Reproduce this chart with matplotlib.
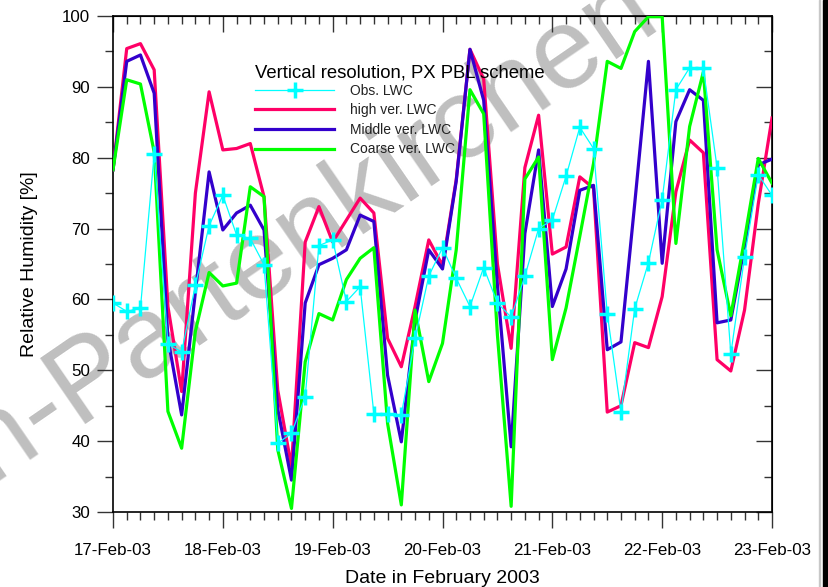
import matplotlib
matplotlib.use("Agg")
import matplotlib.pyplot as plt
import numpy as np
from matplotlib.ticker import MultipleLocator
from matplotlib.patches import Rectangle

plt.rcParams['font.family'] = ['Liberation Sans', 'DejaVu Sans']

# 3-hourly values, 17 Feb 00 UTC .. 23 Feb 00 UTC
day_labels = ['17-Feb-03', '18-Feb-03', '19-Feb-03', '20-Feb-03',
              '21-Feb-03', '22-Feb-03', '23-Feb-03']
steps_per_day = 8

obs_lwc = [59.5, 58.3, 58.8, 80.5, 53.7, 52.6, 62.0, 70.4,
           74.7, 69.1, 68.6, 64.9, 39.7, 41.1, 46.3, 67.6,
           68.4, 59.7, 61.8, 43.9, 43.9, 43.7, 54.5, 63.3,
           67.3, 63.0, 59.0, 64.5, 59.5, 57.5, 63.3, 70.0,
           71.2, 77.4, 84.3, 81.3, 58.0, 44.1, 58.7, 65.2,
           74.1, 89.6, 92.7, 92.6, 78.6, 52.3, 66.0, 77.6,
           74.7]
high_lwc = [78.3, 95.4, 96.1, 92.4, 59.0, 47.0, 75.0, 89.3,
            81.1, 81.3, 82.0, 74.5, 47.2, 36.4, 68.1, 73.1,
            68.1, 71.2, 74.3, 72.2, 54.5, 50.5, 59.0, 68.4,
            64.8, 76.9, 95.3, 91.1, 65.0, 53.1, 78.6, 86.0,
            66.4, 67.4, 77.3, 75.7, 44.1, 45.0, 53.9, 53.2,
            60.4, 75.2, 82.5, 80.7, 51.5, 49.9, 58.5, 73.5,
            85.6]
middle_lwc = [78.3, 93.6, 94.5, 89.1, 54.5, 43.7, 61.0, 78.0,
              69.8, 72.2, 73.3, 69.8, 44.5, 34.5, 59.5, 64.9,
              65.8, 67.0, 71.9, 71.0, 49.3, 39.9, 57.0, 67.0,
              64.3, 76.7, 95.3, 88.1, 62.0, 39.2, 69.3, 81.1,
              59.0, 64.3, 75.4, 76.1, 52.9, 54.0, 73.5, 93.6,
              65.1, 85.1, 89.6, 88.1, 56.7, 57.1, 67.5, 79.0,
              79.8]
coarse_lwc = [78.3, 91.0, 90.4, 80.8, 44.2, 39.0, 55.5, 63.8,
              61.9, 62.3, 75.9, 74.5, 38.8, 30.5, 51.2, 58.0,
              57.1, 62.8, 65.8, 67.3, 42.5, 31.0, 58.5, 48.4,
              53.8, 67.0, 89.6, 86.2, 55.0, 30.8, 77.0, 80.1,
              51.5, 58.8, 68.9, 79.2, 93.6, 92.6, 97.8, 99.9,
              99.9, 67.9, 84.4, 92.1, 67.0, 57.7, 68.5, 79.9,
              76.4]

t = np.arange(len(obs_lwc)) / steps_per_day

W, H = 829, 587
fig = plt.figure(figsize=(W / 100, H / 100), dpi=100)
ax = fig.add_axes([113 / W, 1 - 512 / H, 659 / W, 496 / H])
ax.set_facecolor('none')

# background stamp
stamp = dict(fontsize=83, color='#bfbfbf', rotation=34.5,
             rotation_mode='anchor', va='baseline', zorder=-5,
             family='Liberation Sans')
fig.text(76 / W, 1 - 424 / H, 'Garmisch-', ha='right', **stamp)
fig.text(76 / W, 1 - 424 / H, 'Partenkirchen', ha='left', **stamp)

lw = 2.3
ax.plot(t, high_lwc, color='#ff0066', lw=lw, label='high ver. LWC', zorder=3)
ax.plot(t, middle_lwc, color='#3300cc', lw=lw, label='Middle ver. LWC', zorder=4)
ax.plot(t, coarse_lwc, color='#00ff00', lw=lw, label='Coarse ver. LWC', zorder=5)
ax.plot(t, obs_lwc, color='#00ffff', lw=0.9, marker='+', ms=12, mew=2.5,
        label='Obs. LWC', zorder=6)

ax.set_xlim(0, 6)
ax.set_ylim(30, 100)
ax.set_xticks(np.arange(7))
ax.set_xticklabels(day_labels)
ax.xaxis.set_minor_locator(MultipleLocator(1 / steps_per_day))
ax.yaxis.set_major_locator(MultipleLocator(10))
ax.yaxis.set_minor_locator(MultipleLocator(5))

tick_col = '#333333'
ax.tick_params(which='major', direction='out', length=11.5, width=1.0,
               color=tick_col, labelsize=12.2)
ax.tick_params(which='minor', direction='out', length=5.8, width=1.0,
               color=tick_col)
ax.tick_params(axis='x', which='major', pad=10.5)
ax.tick_params(axis='y', which='major', pad=5)

# inward ticks on top and right
top = ax.secondary_xaxis('top')
top.set_xticks(np.arange(7))
top.xaxis.set_minor_locator(MultipleLocator(1 / steps_per_day))
right = ax.secondary_yaxis('right')
right.yaxis.set_major_locator(MultipleLocator(10))
right.yaxis.set_minor_locator(MultipleLocator(5))
for sec in (top, right):
    sec.tick_params(which='major', direction='in', length=11.5, width=1.0,
                    color=tick_col, labeltop=False, labelright=False)
    sec.tick_params(which='minor', direction='in', length=5.8, width=1.0,
                    color=tick_col)

for s in ax.spines.values():
    s.set_linewidth(1.2)

ax.set_xlabel('Date in February 2003', fontsize=14, labelpad=9)
ax.set_ylabel('Relative Humidity [%]', fontsize=14, labelpad=17)

handles, labels = ax.get_legend_handles_labels()
order = [3, 0, 1, 2]
leg = ax.legend([handles[i] for i in order], [labels[i] for i in order],
                title='Vertical resolution, PX PBL scheme',
                title_fontsize=13.3, fontsize=10, frameon=False,
                loc='upper left', bbox_to_anchor=(255 / W, 1 - 64 / H),
                bbox_transform=fig.transFigure, borderpad=0,
                borderaxespad=0, handlelength=5.7, handletextpad=1.15,
                labelspacing=0.4, alignment='left')
leg._legend_box.sep = 2
for txt in leg.get_texts():
    txt.set_color('#222222')

# page edge
fig.add_artist(Rectangle((823 / W, 0), 5 / W, 1, transform=fig.transFigure,
                         color='black', zorder=10))
fig.add_artist(Rectangle((819 / W, 0), 1 / W, 1, transform=fig.transFigure,
                         color='#c8c8c8', zorder=10))

fig.savefig('out.png', dpi=100)
